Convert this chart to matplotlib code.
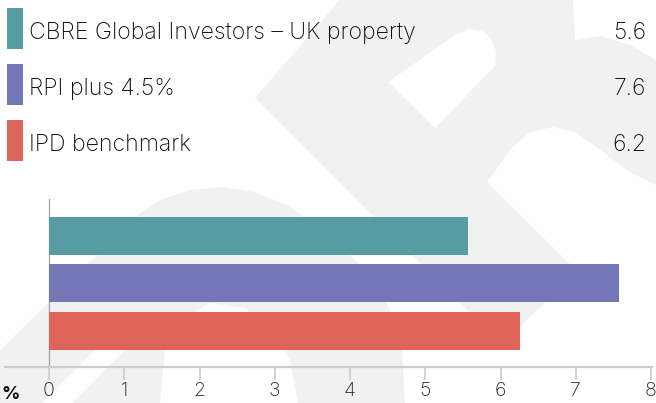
import matplotlib
matplotlib.use("Agg")
import matplotlib.pyplot as plt
from matplotlib.patches import Polygon, Rectangle
from matplotlib.lines import Line2D

# ---- data ----
series = ["CBRE Global Investors \u2013 UK property", "RPI plus 4.5%", "IPD benchmark"]
values = [5.57, 7.58, 6.26]
value_labels = ["5.6", "7.6", "6.2"]
colors = ["#579ba3", "#7477b6", "#de6359"]
x_ticks = [0, 1, 2, 3, 4, 5, 6, 7, 8]
unit_label = "%"

W, H = 656, 403
plt.rcParams['font.family'] = ['Inter', 'DejaVu Sans']

fig = plt.figure(figsize=(W / 100, H / 100), dpi=100)
fig.patch.set_facecolor("white")


def P(x, y):
    return (x / W, 1 - y / H)


def poly(pts, color, z):
    fig.add_artist(Polygon([P(x, y) for x, y in pts], closed=True,
                           transform=fig.transFigure, facecolor=color,
                           edgecolor="none", zorder=z))


# ---- faint background watermark ----
wm = "#f1f1f1"
poly([(340, 0), (573, 0), (575, 40), (600, 36), (630, 45), (656, 60), (656, 185),
      (630, 172), (600, 150), (575, 132), (553, 127), (530, 132), (510, 150),
      (487, 182), (577, 271), (502, 345), (255, 98)], wm, -10)
poly([(388, 82), (455, 35), (468, 29), (482, 31), (492, 40), (496, 52), (495, 66),
      (435, 128)], "white", -9)
poly([(0, 350), (140, 213), (160, 200), (190, 190), (220, 187), (255, 192),
      (290, 207), (330, 235), (365, 270), (390, 310), (402, 350), (405, 403),
      (0, 403)], wm, -10)
poly([(160, 403), (165, 350), (180, 320), (210, 303), (245, 308), (272, 330),
      (290, 360), (298, 403)], "white", -9)
poly([(115, 330), (145, 330), (72, 403), (42, 403)], "white", -9)

# ---- legend rows ----
for i, (name, vl, c) in enumerate(zip(series, value_labels, colors)):
    top = 8 + i * 56.2
    x0, y0 = P(7, top + 41)
    fig.add_artist(Rectangle((x0, y0), 16 / W, 41 / H, transform=fig.transFigure,
                             facecolor=c, edgecolor="none"))
    base = top + 31
    fig.text(*P(29, base), name, fontsize=16.6, fontweight="light", color="#111111",
             ha="left", va="baseline")
    fig.text(*P(646, base), vl, fontsize=16.6, fontweight="light", color="#111111",
             ha="right", va="baseline")

# ---- bar chart ----
ax = fig.add_axes([49 / W, 1 - 367 / H, (651 - 49) / W, (367 - 199) / H])
ax.patch.set_alpha(0)
ypos = list(range(len(values)))
ax.barh(ypos, values, height=0.8, color=colors, zorder=3)
ax.set_xlim(x_ticks[0], x_ticks[-1])
ax.set_ylim(len(values) - 1 + 0.76, -0.78)
ax.set_xticks(x_ticks)
ax.set_xticklabels([str(t) for t in x_ticks])
ax.set_yticks([])
for s in ["top", "right", "bottom"]:
    ax.spines[s].set_visible(False)
ax.spines["left"].set_color("#a0a0a0")
ax.spines["left"].set_linewidth(0.9)
ax.tick_params(axis="x", length=9.5, width=1.1, color="#c8c8c8", pad=1.5,
               labelsize=14, labelcolor="#222222")
for lab in ax.get_xticklabels():
    lab.set_fontweight("light")

# base axis line extended to the left
fig.add_artist(Line2D([5 / W, 652 / W], [1 - 367 / H, 1 - 367 / H],
                      transform=fig.transFigure, color="#cccccc", lw=1.6, zorder=5))

fig.text(*P(1, 399), unit_label, fontsize=13, fontweight="bold", color="#111111",
         ha="left", va="baseline")

fig.savefig("out.png", dpi=100)
